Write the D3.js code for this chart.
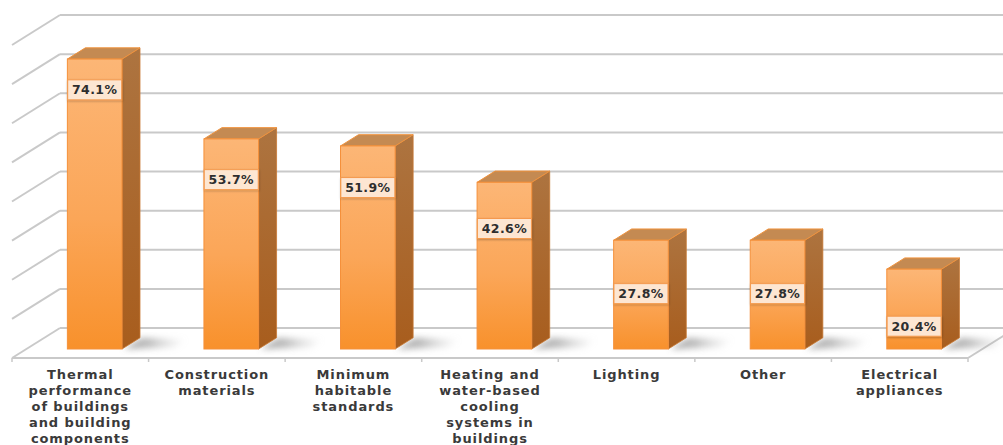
<!DOCTYPE html>
<html>
<head>
<meta charset="utf-8">
<script src="https://cdn.jsdelivr.net/npm/d3@7"></script>
<style>
  html, body { margin: 0; padding: 0; background: #ffffff; }
  svg { display: block; }
</style>
</head>
<body>
<svg id="chart" width="1003" height="445"></svg>
<script>
// Share of respondents per topic (%)
const categories = [
  ["Thermal", "performance", "of buildings", "and building", "components"],
  ["Construction", "materials"],
  ["Minimum", "habitable", "standards"],
  ["Heating and", "water-based", "cooling", "systems in", "buildings"],
  ["Lighting"],
  ["Other"],
  ["Electrical", "appliances"]
];
const values = [74.1, 53.7, 51.9, 42.6, 27.8, 27.8, 20.4];
const gridValues = [0, 10, 20, 30, 40, 50, 60, 70, 80];

const svg = d3.select("#chart");

// Oblique 3D projection: z = 0 is the front edge of the floor, z = 1 the back wall
const depthDX = 48, depthDY = -30;
const proj = (x, y, z) => [x + depthDX * z, y + depthDY * z];

const x = d3.scaleBand()
  .domain(d3.range(values.length))
  .range([12, 968])
  .paddingInner(0.6)
  .paddingOuter(0.3);

const y = d3.scaleLinear().domain([0, 80]).range([358, 45]);

const zFront = 0.3, zBack = 0.675;

const defs = svg.append("defs");

const frontGrad = defs.append("linearGradient")
  .attr("id", "frontGrad").attr("x1", 0).attr("y1", 0).attr("x2", 0).attr("y2", 1);
frontGrad.append("stop").attr("offset", "0%").attr("stop-color", "#fcb676");
frontGrad.append("stop").attr("offset", "55%").attr("stop-color", "#fba658");
frontGrad.append("stop").attr("offset", "100%").attr("stop-color", "#f8912c");

const sideGrad = defs.append("linearGradient")
  .attr("id", "sideGrad").attr("x1", 0).attr("y1", 0).attr("x2", 0).attr("y2", 1);
sideGrad.append("stop").attr("offset", "0%").attr("stop-color", "#ad7440");
sideGrad.append("stop").attr("offset", "100%").attr("stop-color", "#a85d1d");

const shadowGrad = defs.append("linearGradient")
  .attr("id", "shadowGrad").attr("x1", 0).attr("y1", 0).attr("x2", 1).attr("y2", 0);
shadowGrad.append("stop").attr("offset", "0%").attr("stop-color", "#7a7a7a").attr("stop-opacity", 0.7);
shadowGrad.append("stop").attr("offset", "40%").attr("stop-color", "#8a8a8a").attr("stop-opacity", 0.55);
shadowGrad.append("stop").attr("offset", "100%").attr("stop-color", "#c0c0c0").attr("stop-opacity", 0);

const blur = defs.append("filter").attr("id", "soft")
  .attr("x", "-50%").attr("y", "-50%").attr("width", "200%").attr("height", "200%");
blur.append("feGaussianBlur").attr("stdDeviation", 3);

const lineBlur = defs.append("filter").attr("id", "lineSoft");
lineBlur.append("feGaussianBlur").attr("stdDeviation", 0.5);

const labelShadow = defs.append("filter").attr("id", "labelShadow")
  .attr("x", "-20%").attr("y", "-30%").attr("width", "140%").attr("height", "160%");
labelShadow.append("feDropShadow").attr("dx", 0.5).attr("dy", 1)
  .attr("stdDeviation", 1).attr("flood-color", "#000").attr("flood-opacity", 0.25);

const line = d3.line();

// Walls and floor
const grid = svg.append("g")
  .attr("fill", "none")
  .attr("stroke", "#c9c9c9")
  .attr("stroke-width", 2)
  .attr("filter", "url(#lineSoft)");

gridValues.forEach(v => {
  // back wall
  grid.append("path").attr("d", line([proj(12, y(v), 1), proj(1100, y(v), 1)]));
  // left side wall
  grid.append("path").attr("d", line([proj(12, y(v), 0), proj(12, y(v), 1)]));
});

// Floor front edge and right side edge
grid.append("path").attr("d", line([proj(12, y(0), 0), proj(968, y(0), 0)]));
grid.append("path").attr("d", line([proj(968, y(0), 0), proj(968, y(0), 1)]));

// Category ticks along the front edge
const tickPos = d3.range(values.length + 1).map(i => 12 + i * x.step());
grid.selectAll(null).data(tickPos).enter().append("path")
  .attr("stroke-width", 1.5)
  .attr("d", t => line([[t, y(0)], [t, y(0) + 4]]));

// Floor shadows cast to the right of each bar
const shadows = svg.append("g");
values.forEach((v, i) => {
  const x1 = x(i) + x.bandwidth();
  const pts = [
    proj(x1 + 2, y(0), zFront),
    proj(x1 + 50, y(0), zFront + 0.06),
    proj(x1 + 50, y(0), zBack - 0.06),
    proj(x1 + 2, y(0), zBack)
  ];
  shadows.append("path")
    .attr("d", line(pts) + "Z")
    .attr("fill", "url(#shadowGrad)")
    .attr("filter", "url(#soft)");
});

// Bars
const bars = svg.append("g");
values.forEach((v, i) => {
  const x0 = x(i), x1 = x(i) + x.bandwidth();
  const g = bars.append("g");
  const ft = proj(x0, y(v), zFront), fr = proj(x1, y(v), zFront);
  const fb = proj(x1, y(0), zFront), fl = proj(x0, y(0), zFront);
  const bt = proj(x0, y(v), zBack), br = proj(x1, y(v), zBack), bb = proj(x1, y(0), zBack);

  // right side
  g.append("path")
    .attr("d", line([fr, br, bb, fb]) + "Z")
    .attr("fill", "url(#sideGrad)")
    .attr("stroke", "#c87a35").attr("stroke-width", 0.8);
  // top
  g.append("path")
    .attr("d", line([ft, fr, br, bt]) + "Z")
    .attr("fill", "#c48a52")
    .attr("stroke", "#f0923c").attr("stroke-width", 1);
  // front
  g.append("rect")
    .attr("x", ft[0]).attr("y", ft[1])
    .attr("width", fr[0] - ft[0]).attr("height", fl[1] - ft[1])
    .attr("fill", "url(#frontGrad)")
    .attr("stroke", "#f5903a").attr("stroke-width", 1);
});

// Value labels
const labels = svg.append("g");
values.forEach((v, i) => {
  const cx = proj(x(i) + x.bandwidth() / 2, 0, zFront)[0];
  const cy = proj(0, y(v * 1.125), zFront)[1] + 67;
  const g = labels.append("g").attr("transform", `translate(${cx},${cy})`);
  g.append("rect")
    .attr("x", -27).attr("y", -10).attr("width", 54).attr("height", 20)
    .attr("fill", "#fde6d2")
    .attr("stroke", "#f59a4e").attr("stroke-width", 1)
    .attr("filter", "url(#labelShadow)");
  g.append("text")
    .attr("text-anchor", "middle")
    .attr("dy", "0.36em")
    .attr("font-family", "DejaVu Sans, Verdana, sans-serif")
    .attr("font-weight", "bold")
    .attr("font-size", 12.5)
    .attr("letter-spacing", 0.4)
    .attr("fill", "#2e2e2e")
    .text(d3.format(".1f")(v) + "%");
});

// Category labels
const cats = svg.append("g")
  .attr("font-family", "DejaVu Sans, sans-serif")
  .attr("font-weight", "bold")
  .attr("font-size", 13)
  .attr("letter-spacing", 0.9)
  .attr("fill", "#3a3a3a")
  .attr("text-anchor", "middle");
categories.forEach((lines, i) => {
  const cx = 12 + (i + 0.5) * x.step();
  const t = cats.append("text").attr("x", cx).attr("y", 379);
  lines.forEach((s, k) => {
    t.append("tspan").attr("x", cx).attr("dy", k === 0 ? 0 : 16).text(s);
  });
});
</script>
</body>
</html>
